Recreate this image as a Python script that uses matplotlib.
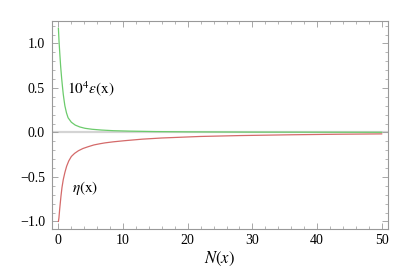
import matplotlib
matplotlib.use('Agg')
import matplotlib.pyplot as plt
from matplotlib.ticker import MultipleLocator

# values
eps_x = [0.0, 0.1, 0.23, 0.35, 0.5, 0.62, 0.75, 0.88, 1.0, 1.25, 1.5, 2.0, 2.6, 3.3, 4.1, 5.2, 6.7,
         8.5, 11.0, 15.0, 20.0, 30.0, 40.0, 50.0]
eps_y = [1.17, 1.02, 0.87, 0.74, 0.61, 0.52, 0.43, 0.36, 0.30, 0.22, 0.165, 0.115, 0.083, 0.062, 0.047,
         0.036, 0.027, 0.020, 0.015, 0.010, 0.007, 0.004, 0.003, 0.002]
eta_x = [0.0, 0.08, 0.2, 0.39, 0.55, 0.75, 1.0, 1.27, 1.6, 2.0, 2.5, 3.1, 3.8, 4.6, 5.5, 6.4, 7.2, 8.5,
         10.3, 13.0, 16.0, 21.9, 28.0, 35.9, 43.0, 50.0]
eta_y = [-1.0, -0.96, -0.86, -0.72, -0.62, -0.53, -0.45, -0.38, -0.32, -0.27, -0.235, -0.205, -0.18,
         -0.16, -0.14, -0.127, -0.117, -0.105, -0.092, -0.075, -0.062, -0.045, -0.035, -0.026, -0.02,
         -0.016]

plt.rcParams['font.family'] = ['Liberation Serif', 'DejaVu Serif']
plt.rcParams['mathtext.fontset'] = 'stix'

fig = plt.figure(figsize=(4.09, 2.69), dpi=100)
ax = fig.add_axes([0.127, 0.149, 0.822, 0.773])

ax.axhline(0, color='#d4d4d4', lw=1.6, zorder=1)
ax.plot(eps_x, eps_y, color='#6ccb6c', lw=0.9, zorder=2)
ax.plot(eta_x, eta_y, color='#d46a6a', lw=0.9, zorder=2)

ax.text(5.0, 0.49, r'$10^4\epsilon(\mathrm{x})$', fontsize=11, ha='center', va='center')
ax.text(4.1, -0.62, r'$\eta(\mathrm{x})$', fontsize=11, ha='center', va='center')

ax.set_xlim(-1, 51)
ax.set_ylim(-1.084, 1.253)
ax.xaxis.set_major_locator(MultipleLocator(10))
ax.xaxis.set_minor_locator(MultipleLocator(2))
ax.yaxis.set_major_locator(MultipleLocator(0.5))
ax.yaxis.set_minor_locator(MultipleLocator(0.1))
ax.set_yticks([-1.0, -0.5, 0.0, 0.5, 1.0])
ax.set_yticklabels(['\u22121.0', '\u22120.5', '0.0', '0.5', '1.0'])

for s in ax.spines.values():
    s.set_color('#999999')
    s.set_linewidth(0.8)
ax.tick_params(which='both', direction='in', top=True, right=True, color='#999999',
               labelsize=10)
ax.tick_params(axis='y', pad=5)
ax.tick_params(axis='x', pad=4)
ax.tick_params(which='major', length=4, width=0.6)
ax.tick_params(which='minor', length=2, width=0.5)

ax.set_xlabel(r'$N(x)$', fontsize=12, labelpad=2)

fig.savefig('out.png', dpi=100)
